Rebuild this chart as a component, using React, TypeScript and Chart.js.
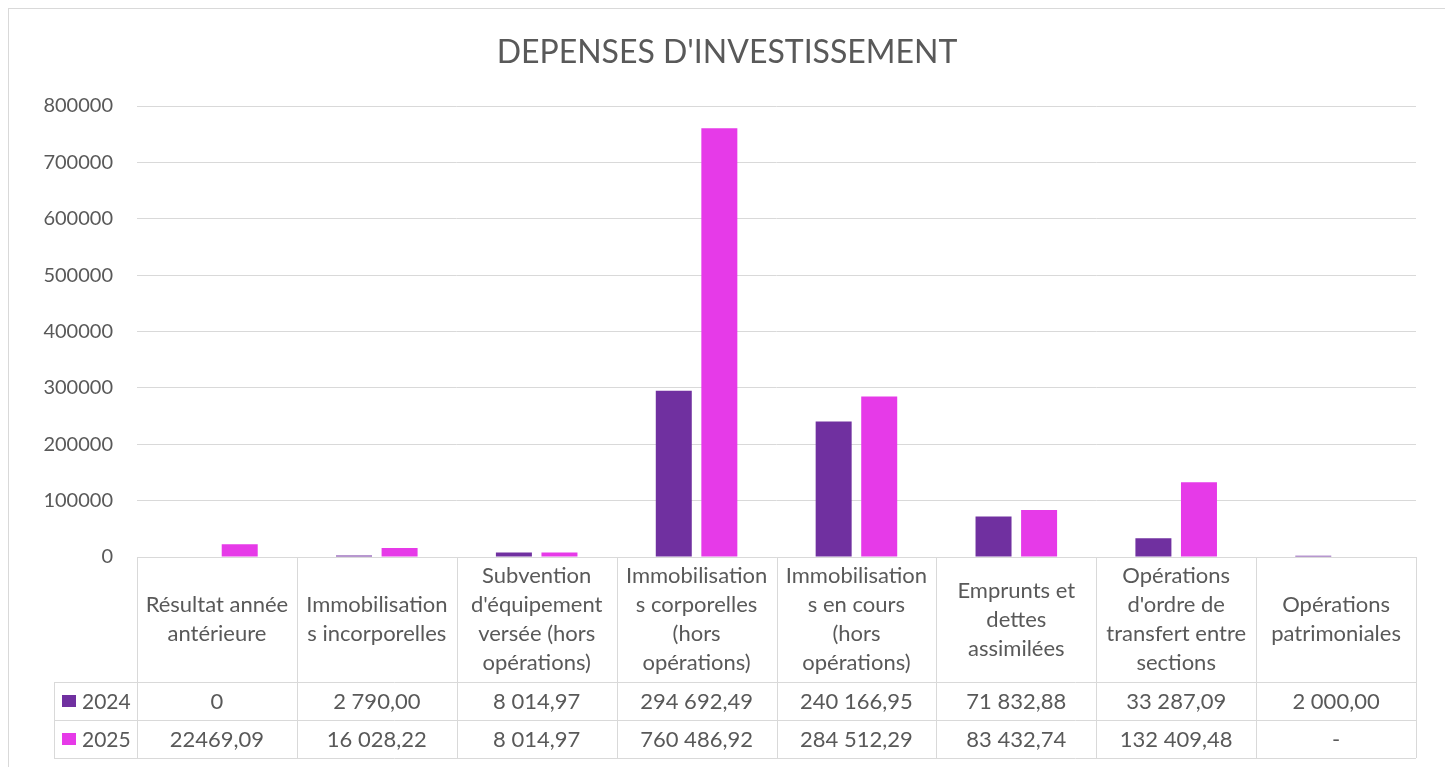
import React, { useEffect, useRef } from "react";
import { Chart, registerables } from "chart.js";

Chart.register(...registerables);

const chartTitle = "DEPENSES D'INVESTISSEMENT";

const categoryLines: string[][] = [
  ["Résultat année", "antérieure"],
  ["Immobilisation", "s incorporelles"],
  ["Subvention", "d'équipement", "versée (hors", "opérations)"],
  ["Immobilisation", "s corporelles", "(hors", "opérations)"],
  ["Immobilisation", "s en cours", "(hors", "opérations)"],
  ["Emprunts et", "dettes", "assimilées"],
  ["Opérations", "d'ordre de", "transfert entre", "sections"],
  ["Opérations", "patrimoniales"],
];

const seriesNames = ["2024", "2025"];
const seriesColors = ["#7030A0", "#E63AE8"];

const values2024: (number | null)[] = [0, 2790.0, 8014.97, 294692.49, 240166.95, 71832.88, 33287.09, 2000.0];
const values2025: (number | null)[] = [22469.09, 16028.22, 8014.97, 760486.92, 284512.29, 83432.74, 132409.48, null];

const tableText2024 = ["0", "2 790,00", "8 014,97", "294 692,49", "240 166,95", "71 832,88", "33 287,09", "2 000,00"];
const tableText2025 = ["22469,09", "16 028,22", "8 014,97", "760 486,92", "284 512,29", "83 432,74", "132 409,48", "-"];

const yMin = 0;
const yMax = 800000;
const yStep = 100000;

const FONT = "Lato, 'Open Sans', sans-serif";
const TEXT_COLOR = "#595959";
const LINE_COLOR = "#d9d9d9";

const tablePlugin = {
  id: "dataTable",
  afterDraw(chart: any) {
    const ctx = chart.ctx as CanvasRenderingContext2D;
    const area = chart.chartArea;
    const xs = chart.scales.x;
    const n = categoryLines.length;
    const colW = (area.right - area.left) / n;
    const top = area.bottom;
    const headerH = 125;
    const rowH = 38;
    const legendLeft = area.left - 83;
    const rows = [tableText2024, tableText2025];
    const bottom = top + headerH + rowH * rows.length;

    const px = (v: number) => Math.round(v) + 0.5;

    ctx.save();
    ctx.strokeStyle = LINE_COLOR;
    ctx.lineWidth = 1;
    ctx.beginPath();
    ctx.moveTo(area.left, px(top));
    ctx.lineTo(area.right, px(top));
    for (let r = 0; r <= rows.length; r++) {
      const y = px(top + headerH + r * rowH);
      ctx.moveTo(legendLeft, y);
      ctx.lineTo(area.right, y);
    }
    for (let i = 0; i <= n; i++) {
      const x = px(area.left + i * colW);
      ctx.moveTo(x, top);
      ctx.lineTo(x, bottom);
    }
    ctx.moveTo(px(legendLeft), top + headerH);
    ctx.lineTo(px(legendLeft), bottom);
    ctx.stroke();

    ctx.fillStyle = TEXT_COLOR;
    ctx.font = `22px ${FONT}`;
    ctx.textAlign = "center";
    ctx.textBaseline = "middle";
    const lh = 29;
    for (let i = 0; i < n; i++) {
      const cx = xs.getPixelForValue(i);
      const lines = categoryLines[i];
      const cy = top + headerH / 2;
      const start = cy - ((lines.length - 1) * lh) / 2;
      lines.forEach((ln, k) => ctx.fillText(ln, cx, start + k * lh));
      rows.forEach((row, r) => {
        ctx.fillText(row[i], cx, top + headerH + r * rowH + rowH / 2 + 1);
      });
    }

    ctx.font = `21px ${FONT}`;
    rows.forEach((_, r) => {
      const cy = top + headerH + r * rowH + rowH / 2;
      ctx.fillStyle = seriesColors[r];
      ctx.fillRect(legendLeft + 8, cy - 6, 14, 12);
      ctx.fillStyle = TEXT_COLOR;
      ctx.textAlign = "left";
      ctx.fillText(seriesNames[r], legendLeft + 28, cy + 1);
    });
    ctx.restore();
  },
};

export default function App() {
  const ref = useRef<HTMLCanvasElement | null>(null);

  useEffect(() => {
    if (!ref.current) return;
    const chart = new Chart(ref.current, {
      type: "bar",
      data: {
        labels: categoryLines.map((l) => l.join(" ")),
        datasets: [
          { label: seriesNames[0], data: values2024, backgroundColor: seriesColors[0] },
          { label: seriesNames[1], data: values2025, backgroundColor: seriesColors[1] },
        ],
      },
      options: {
        animation: false,
        responsive: false,
        layout: { padding: { left: 29, right: 29, top: 0, bottom: 212 } },
        datasets: { bar: { categoryPercentage: 0.57, barPercentage: 0.79 } },
        plugins: {
          legend: { display: false },
          tooltip: { enabled: false },
          title: {
            display: true,
            text: chartTitle,
            color: TEXT_COLOR,
            font: { family: FONT, size: 32, weight: "normal", lineHeight: 1.2 },
            padding: { top: 24, bottom: 34.6 },
          },
        },
        scales: {
          x: { display: false },
          y: {
            min: yMin,
            max: yMax,
            border: { display: false },
            grid: { color: LINE_COLOR, lineWidth: 1, drawTicks: false },
            ticks: {
              stepSize: yStep,
              padding: 24,
              color: TEXT_COLOR,
              font: { family: FONT, size: 20 },
              callback: (v: any) => String(v),
            },
            afterFit: (scale: any) => {
              scale.width = 99;
            },
          },
        },
      },
      plugins: [tablePlugin],
    } as any);
    return () => chart.destroy();
  }, []);

  return (
    <div
      style={{
        width: 1436,
        height: 775,
        border: `1px solid ${LINE_COLOR}`,
        background: "#fff",
      }}
    >
      <canvas ref={ref} width={1436} height={760} style={{ display: "block" }} />
    </div>
  );
}
